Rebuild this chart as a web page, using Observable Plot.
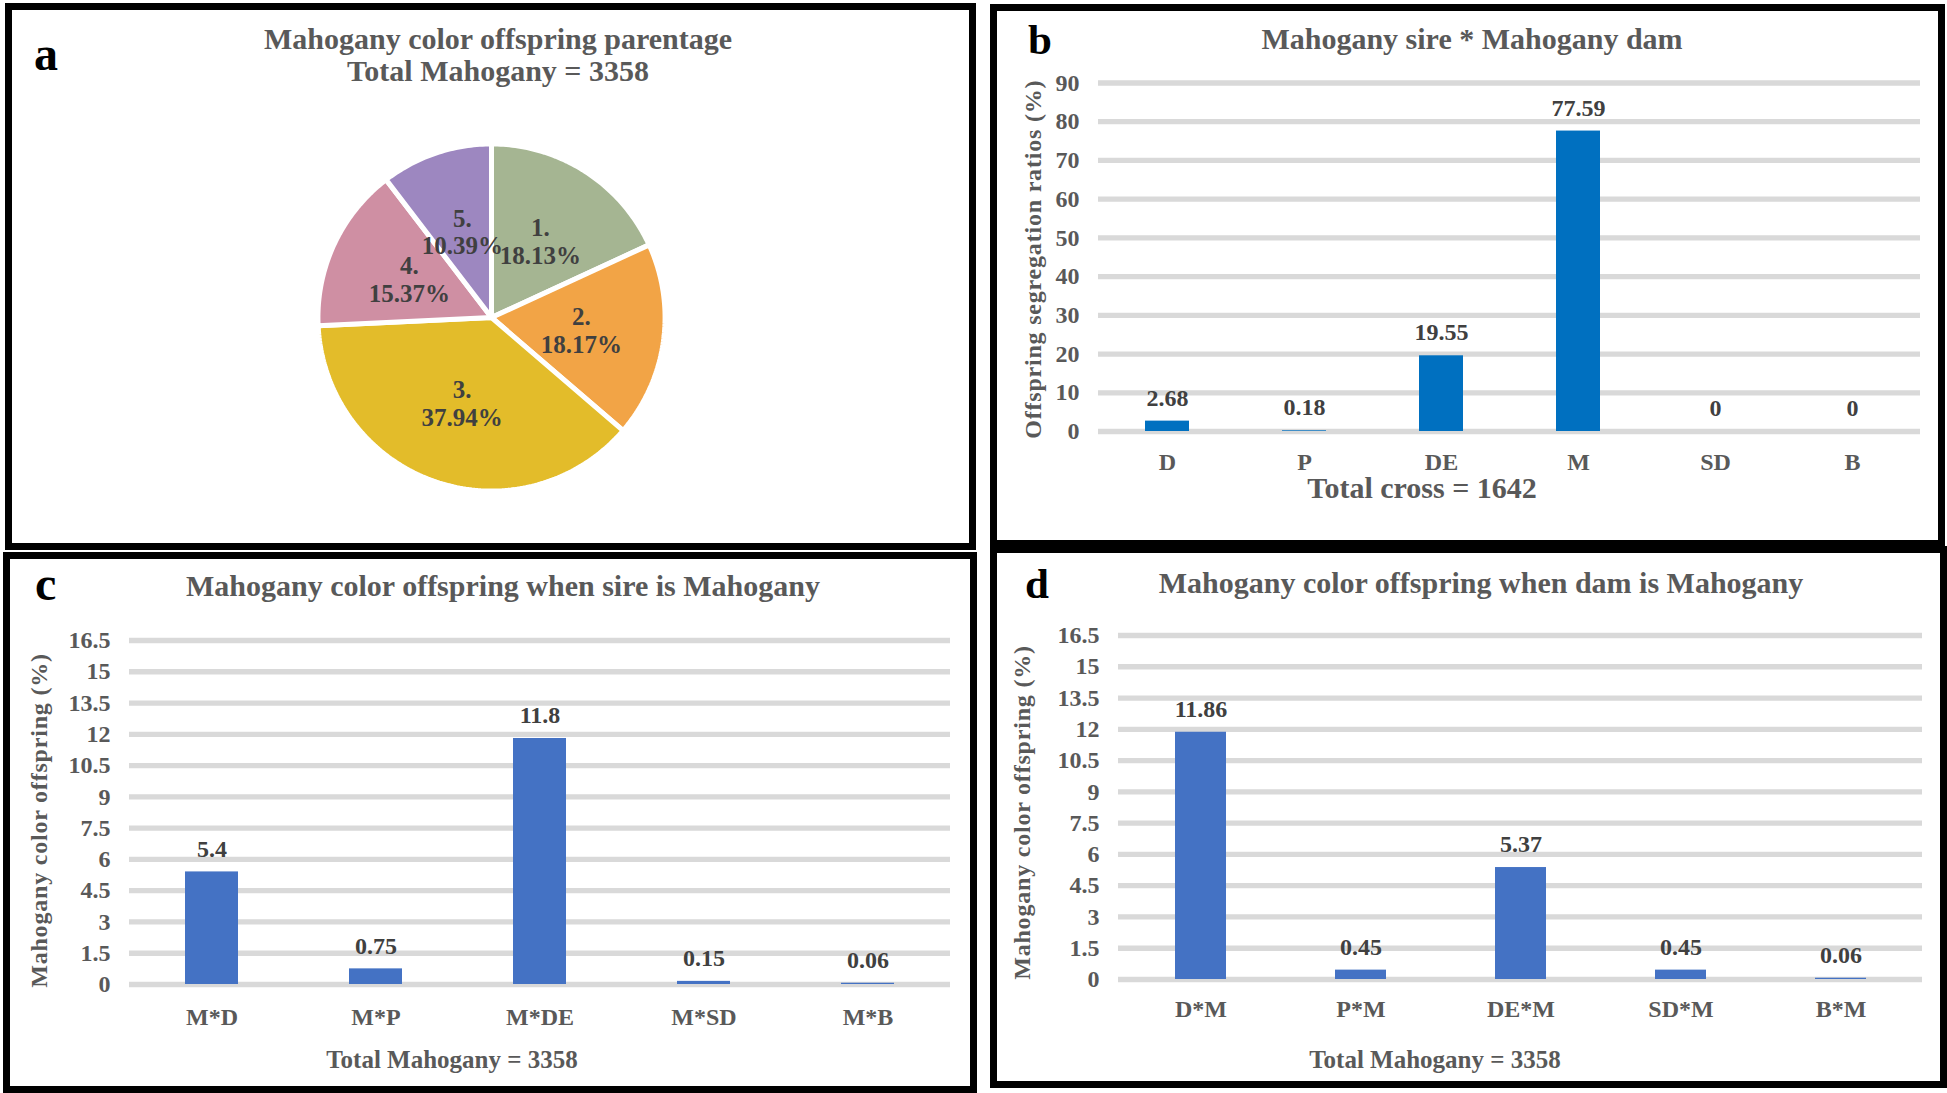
<!DOCTYPE html>
<html><head><meta charset="utf-8">
<script src="https://cdn.jsdelivr.net/npm/d3@7"></script>
<script src="https://cdn.jsdelivr.net/npm/@observablehq/plot@0.6"></script>
<style>
html,body{margin:0;padding:0;background:#fff;}
#root{position:relative;width:1947px;height:1093px;overflow:hidden;background:#fff;font-family:"Liberation Serif","Times New Roman",serif;font-weight:bold;}
.panel{position:absolute;box-sizing:border-box;border:7px solid #000;}
.abs{position:absolute;white-space:nowrap;line-height:1;}
#root svg{position:absolute;}
</style></head><body><div id="root"></div>
<script>
// ---------- data ----------
const pieLabels = ["1.", "2.", "3.", "4.", "5."];
const pieValues = [18.13, 18.17, 37.94, 15.37, 10.39];
const pieColors = ["#A5B592", "#F2A446", "#E3BC2A", "#CF8FA3", "#9D87C0"];

const bCats = ["D", "P", "DE", "M", "SD", "B"];
const bValues = [2.68, 0.18, 19.55, 77.59, 0, 0];
const bTicks = [0, 10, 20, 30, 40, 50, 60, 70, 80, 90];

const cCats = ["M*D", "M*P", "M*DE", "M*SD", "M*B"];
const cValues = [5.4, 0.75, 11.8, 0.15, 0.06];

const dCats = ["D*M", "P*M", "DE*M", "SD*M", "B*M"];
const dValues = [11.86, 0.45, 5.37, 0.45, 0.06];

const smallTicks = [0, 1.5, 3, 4.5, 6, 7.5, 9, 10.5, 12, 13.5, 15, 16.5];

// ---------- helpers ----------
const FONT = '"Liberation Serif","Times New Roman",serif';
const root = document.getElementById("root");

function panel(x, y, w, h) {
  const d = document.createElement("div");
  d.className = "panel";
  Object.assign(d.style, {left: x + "px", top: y + "px", width: w + "px", height: h + "px"});
  root.appendChild(d);
}
function txt(s, x, baseline, size, color, anchor) {
  const d = document.createElement("div");
  d.className = "abs";
  d.textContent = s;
  Object.assign(d.style, {
    left: x + "px", top: (baseline - 0.8375 * size) + "px",
    fontSize: size + "px", color: color,
    transform: anchor === "start" ? "none" : "translateX(-50%)"
  });
  root.appendChild(d);
}
function place(svg, left, top) {
  svg.style.left = left + "px";
  svg.style.top = top + "px";
  root.appendChild(svg);
}

function barChart(o) {
  const data = o.cats.map((c, i) => ({cat: c, v: o.values[i]}));
  const svg = Plot.plot({
    width: o.w, height: o.h,
    marginTop: o.m[0], marginRight: o.m[1], marginBottom: o.m[2], marginLeft: o.m[3],
    style: {fontFamily: FONT, fontWeight: "bold", fontSize: "24px", color: "#595959", background: "transparent", overflow: "visible"},
    x: {type: "band", domain: o.cats, paddingInner: o.pad, paddingOuter: o.pad / 2, axis: null},
    y: {domain: [0, o.ymax], axis: null},
    marks: [
      Plot.gridY(o.ticks, {stroke: "#D9D9D9", strokeOpacity: 1, strokeWidth: 5.3}),
      Plot.barY(data, {x: "cat", y: "v", fill: o.color}),
      Plot.axisY(o.ticks, {tickSize: 0, tickPadding: 19, fontSize: 24, label: null, tickFormat: d => String(d)}),
      Plot.axisX({tickSize: 0, tickPadding: o.xPad, fontSize: 24, label: null}),
      Plot.text(data, {x: "cat", y: "v", text: d => String(d.v), dy: -23, fill: "#404040", fontSize: 24, fontWeight: "bold"}),
      Plot.text([o.yLabel], {frameAnchor: "left", rotate: -90, textAnchor: "middle", text: d => d,
        dx: o.labelDx, dy: o.labelDy, fontSize: 24, fontWeight: "bold", fill: "#595959"})
    ]
  });
  d3.select(svg).selectAll("text").filter(function () { return this.textContent === o.yLabel; })
    .attr("letter-spacing", "0.8px");
  return svg;
}

// ---------- panel borders ----------
panel(5, 3, 971, 547);
panel(990, 4, 955, 543);
panel(3, 552, 974, 541);
panel(990, 546, 957, 542);

// ---------- panel a : pie ----------
const arcs = d3.pie().sort(null).value(d => d)(pieValues);
const R = 1.015;
const sliceMarks = arcs.map((a, i) => {
  const pts = [{x: 0, y: 0}];
  const n = Math.ceil((a.endAngle - a.startAngle) / (Math.PI / 180));
  for (let k = 0; k <= n; k++) {
    const t = a.startAngle + (a.endAngle - a.startAngle) * k / n;
    pts.push({x: R * Math.sin(t), y: R * Math.cos(t)});
  }
  pts.push({x: 0, y: 0});
  return Plot.line(pts, {x: "x", y: "y", fill: pieColors[i], stroke: "white", strokeWidth: 5, strokeLinejoin: "miter"});
});
const pieText = arcs.map((a, i) => {
  const mid = (a.startAngle + a.endAngle) / 2;
  return {x: 0.53 * Math.sin(mid), y: 0.53 * Math.cos(mid), t: pieLabels[i] + "\n" + pieValues[i].toFixed(2) + "%"};
});
const pie = Plot.plot({
  width: 957, height: 533,
  marginLeft: 308, marginRight: 307, marginTop: 136, marginBottom: 55,
  style: {fontFamily: FONT, fontWeight: "bold", background: "transparent", overflow: "visible"},
  x: {domain: [-1, 1], axis: null},
  y: {domain: [-1, 1], axis: null},
  marks: [
    ...sliceMarks,
    Plot.text(pieText, {x: "x", y: "y", text: "t", fontSize: 25, lineHeight: 1.1, fill: "#404040", fontWeight: "bold"})
  ]
});
place(pie, 12, 10);

// ---------- panel b ----------
place(barChart({
  cats: bCats, values: bValues, ticks: bTicks, ymax: 90, color: "#0070C0",
  w: 941, h: 528, m: [71.5, 18, 108, 101], pad: 0.68, xPad: 21,
  yLabel: "Offspring segregation ratios (%)", labelDx: -65, labelDy: 2
}), 997, 11);

// ---------- panel c ----------
place(barChart({
  cats: cCats, values: cValues, ticks: smallTicks, ymax: 16.5, color: "#4472C4",
  w: 960, h: 527, m: [81, 20, 102, 119], pad: 0.677, xPad: 23,
  yLabel: "Mahogany color offspring (%)", labelDx: -90, labelDy: 8
}), 10, 559);

// ---------- panel d ----------
place(barChart({
  cats: dCats, values: dValues, ticks: smallTicks, ymax: 16.5, color: "#4472C4",
  w: 943, h: 528, m: [82, 18, 102, 121], pad: 0.683, xPad: 20,
  yLabel: "Mahogany color offspring (%)", labelDx: -96, labelDy: 5
}), 997, 553);

// ---------- titles, letters, captions ----------
txt("a", 34, 70, 48, "#000", "start");
txt("Mahogany color offspring parentage", 498, 49, 30, "#595959");
txt("Total Mahogany = 3358", 498, 81, 30, "#595959");

txt("b", 1028, 54, 43, "#000", "start");
txt("Mahogany sire * Mahogany dam", 1472, 49, 30, "#595959");
txt("Total cross = 1642", 1422, 498, 30, "#595959");

txt("c", 35, 600, 48, "#000", "start");
txt("Mahogany color offspring when sire is Mahogany", 503, 596, 30, "#595959");
txt("Total Mahogany = 3358", 452, 1068, 25, "#595959");

txt("d", 1025, 598, 43, "#000", "start");
txt("Mahogany color offspring when dam is Mahogany", 1481, 593, 30, "#595959");
txt("Total Mahogany = 3358", 1435, 1068, 25, "#595959");
</script></body></html>
